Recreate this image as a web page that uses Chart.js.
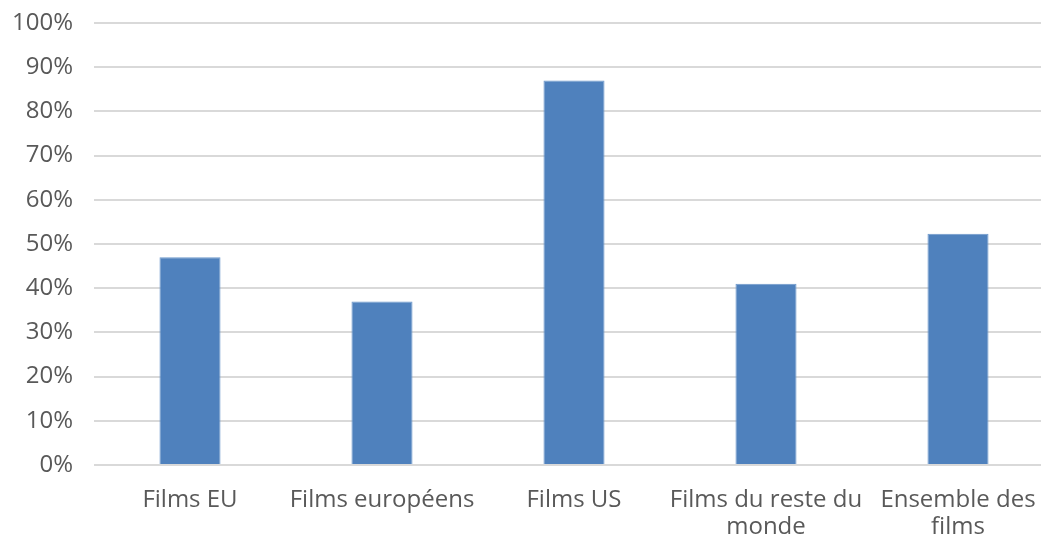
<!DOCTYPE html>
<html>
<head>
<meta charset="utf-8">
<script src="https://cdn.jsdelivr.net/npm/chart.js@4"></script>
<style>
html,body{margin:0;padding:0;background:#fff;overflow:hidden;width:1041px;height:536px;}
#wrap{width:1054px;height:536px;position:relative;}
</style>
</head>
<body>
<div id="wrap"><canvas id="c"></canvas></div>
<script>
const categories = [
  "Films EU",
  "Films européens",
  "Films US",
  ["Films du reste du", "monde"],
  ["Ensemble des", "films"]
];
const values = [47, 37, 87, 41, 52.3];
const yTicks = [0, 10, 20, 30, 40, 50, 60, 70, 80, 90, 100];

const FONT = "'Open Sans', 'Noto Sans', sans-serif";
new Chart(document.getElementById('c'), {
  type: 'bar',
  data: {
    labels: categories,
    datasets: [{
      data: values,
      backgroundColor: '#4f81bd',
      borderColor: '#6d98cc',
      borderWidth: 1,
      categoryPercentage: 1,
      barPercentage: 0.318
    }]
  },
  options: {
    responsive: true,
    maintainAspectRatio: false,
    animation: false,
    layout: { padding: { left: 0, right: 0, top: 0, bottom: 0 } },
    plugins: { legend: { display: false }, tooltip: { enabled: false } },
    scales: {
      x: {
        afterFit: (s) => { s.height = 71; s.paddingRight = 0; s.paddingLeft = 0; },
        grid: { display: false, drawTicks: false },
        border: { display: false },
        ticks: { color: '#595959', font: { family: FONT, size: 24, lineHeight: 1.12 }, padding: 22, maxRotation: 0, autoSkip: false }
      },
      y: {
        min: 0, max: 100,
        afterFit: (s) => { s.width = 94; s.paddingTop = 23; s.paddingBottom = 0; },
        afterBuildTicks: (s) => { s.ticks = yTicks.map(v => ({ value: v })); },
        grid: { color: '#d9d9d9', lineWidth: 2, drawTicks: false },
        border: { display: false },
        ticks: { color: '#595959', font: { family: FONT, size: 24 }, padding: 21, callback: v => v + '%' }
      }
    }
  }
});
</script>
</body>
</html>
